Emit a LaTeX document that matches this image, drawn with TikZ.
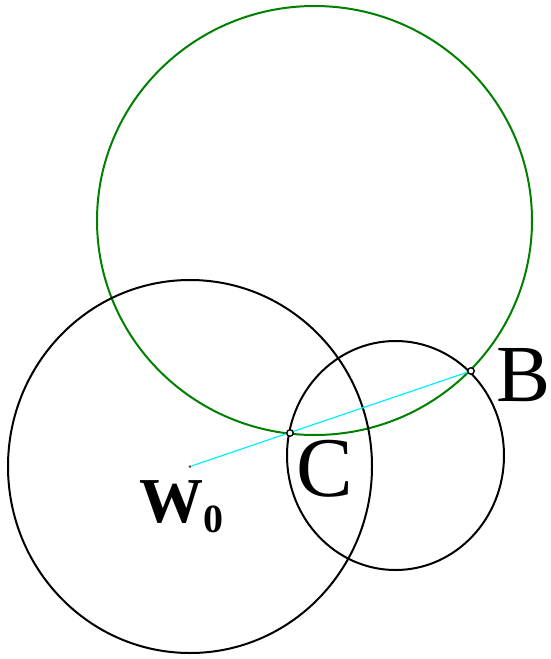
\documentclass[tikz,border=0pt]{standalone}
\usepackage{fontspec}
\setmainfont{Liberation Serif}
\definecolor{circgreen}{RGB}{0,128,0}
\definecolor{segcyan}{RGB}{0,240,255}
\begin{document}
\begin{tikzpicture}[x=1pt,y=-1pt,
  blackcirc/.style={draw=black,line width=2pt},
  greencirc/.style={draw=circgreen,line width=2pt},
  segment/.style={draw=segcyan,line width=1.2pt},
  ptmark/.style={circle,draw=black,fill=white,line width=1.4pt,inner sep=0pt,minimum size=6.5pt},
  centermark/.style={circle,fill=black!70,inner sep=0pt,minimum size=3pt},
  biglabel/.style={inner sep=0pt,font=\fontsize{85}{85}\selectfont}]
\useasboundingbox (0,0) rectangle (551,659);
\coordinate (Gc) at (314.5,220.5);
\coordinate (Bc) at (190,466.5);
\coordinate (Sc) at (395.5,455.5);
\draw[greencirc] (Gc) ellipse [x radius=217.5pt, y radius=214.5pt];
\draw[blackcirc] (Bc) ellipse [x radius=182pt, y radius=186.5pt];
\draw[blackcirc] (Sc) ellipse [x radius=108.5pt, y radius=114.5pt];
\node[centermark] (W) at (190,466.5) {};
\coordinate (Bp) at (471,371);
\coordinate (Cp) at (290,433);
\draw[segment] (W) -- (Bp);
\node[ptmark] (B) at (Bp) {};
\node[ptmark] (C) at (Cp) {};
\node[biglabel,anchor=base west,font=\fontsize{81}{81}\selectfont] (Blab) at (496,401) {B};
\node[biglabel,anchor=base west] (Clab) at (296,496) {C};
\node[inner sep=0pt,anchor=base west,font=\bfseries\fontsize{64}{64}\selectfont] (Wlab) at (139,522) {W\raisebox{-10pt}{\fontsize{40}{40}\selectfont 0}};
\end{tikzpicture}
\end{document}
